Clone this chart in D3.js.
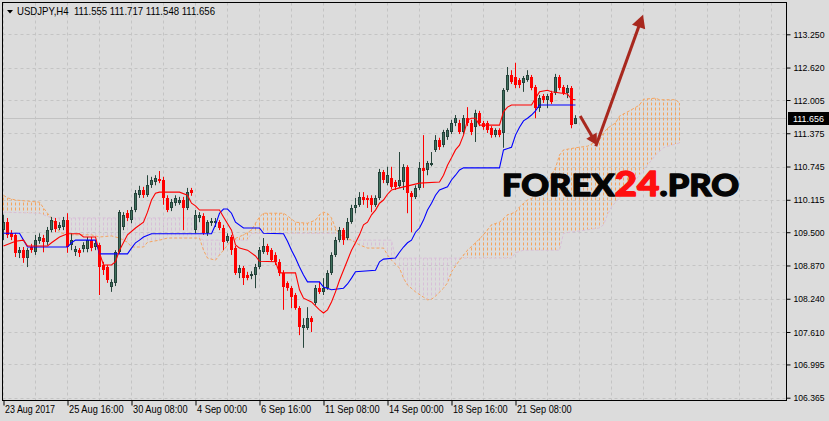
<!DOCTYPE html>
<html><head><meta charset="utf-8">
<script src="https://cdn.jsdelivr.net/npm/d3@7"></script>
<style>
html,body{margin:0;padding:0;background:#dcdcdc;}
svg{display:block;}
</style></head><body>
<svg id="chart" width="829" height="421"></svg>
<script>
// ---------- data ----------
const symbolLabel = "USDJPY,H4";
const headerOHLC = [111.555, 111.717, 111.548, 111.656];
const currentPrice = 111.656;

const opens = [
109.54,109.69,109.48,109.45,109.11,109.16,109.01,109.22,109.12,109.33,
109.39,109.31,109.54,109.71,109.58,109.60,109.73,109.26,109.12,109.16,
109.18,109.18,109.35,109.22,109.26,108.88,108.84,108.46,108.54,109.12,
109.60,109.86,109.73,109.92,110.20,110.30,110.20,110.39,110.45,110.51,
110.49,110.15,109.96,110.05,110.05,110.11,109.96,110.30,109.54,109.77,
109.81,109.48,109.67,109.67,109.69,109.58,109.33,109.41,109.20,108.73,
108.82,108.69,108.67,108.69,108.84,109.12,109.24,109.16,109.07,108.94,
108.73,108.54,108.44,108.31,108.06,107.68,107.68,107.87,108.16,108.44,
108.37,108.44,108.73,109.07,109.35,109.54,109.39,109.69,109.96,110.02,
110.17,110.15,110.15,110.02,110.15,110.64,110.43,110.53,110.45,110.38,
110.45,110.74,110.24,110.17,110.34,110.72,110.68,110.77,111.06,111.25,
111.15,111.30,111.40,111.57,111.57,111.40,111.66,111.57,111.49,111.76,
111.57,111.57,111.47,111.34,111.44,111.38,112.19,112.48,112.44,112.38,
112.33,112.38,112.44,112.25,111.85,112.08,112.01,112.14,112.14,112.44,
112.25,112.14,112.23,111.555];
const highs = [
109.83,109.77,109.54,109.48,109.22,109.22,109.20,109.28,109.45,109.48,
109.45,109.60,109.79,109.77,109.69,109.79,109.86,109.48,109.24,109.20,
109.31,109.41,109.41,109.35,109.30,108.94,108.88,108.61,109.16,109.92,
109.88,109.92,109.98,110.30,110.38,110.36,110.58,110.55,110.58,110.66,
110.55,110.20,110.13,110.20,110.17,110.17,110.34,110.34,109.92,109.88,
109.86,109.73,109.77,109.77,109.73,109.64,109.48,109.45,109.24,108.88,
108.86,108.75,108.76,108.90,109.22,109.39,109.28,109.20,109.12,108.99,
108.78,108.57,108.48,108.35,108.10,107.87,108.08,107.91,108.50,108.56,
108.63,108.78,109.12,109.41,109.60,109.58,109.77,110.02,110.15,110.26,
110.26,110.20,110.20,110.20,110.70,110.68,110.74,110.74,110.49,111.02,
110.79,110.77,110.28,110.39,110.83,111.34,110.85,111.02,111.34,111.29,
111.44,111.47,111.63,111.72,111.63,111.72,111.87,111.63,111.82,111.80,
111.61,111.61,111.51,111.47,111.47,112.23,112.63,112.57,112.71,112.42,
112.46,112.57,112.48,112.29,112.10,112.12,112.12,112.18,112.50,112.48,
112.29,112.29,112.27,111.717];
const lows = [
109.35,109.39,109.35,109.03,109.01,108.92,108.84,109.11,109.07,109.28,
109.12,109.26,109.50,109.50,109.54,109.54,109.11,109.16,109.05,109.03,
109.12,109.12,109.14,109.16,108.31,108.69,108.54,108.37,108.48,109.09,
109.54,109.71,109.67,109.88,110.15,110.15,110.17,110.34,110.39,110.43,
110.02,109.88,109.90,110.00,110.02,109.54,109.92,110.19,109.48,109.69,
109.45,109.43,109.62,109.60,109.54,109.16,109.30,109.07,108.69,108.63,
108.50,108.59,108.61,108.44,108.80,109.09,109.07,108.94,108.88,108.67,
108.03,108.39,108.06,108.03,107.55,107.31,107.65,107.61,108.12,108.33,
108.31,108.41,108.69,109.03,109.31,109.26,109.35,109.66,109.86,109.98,
110.02,109.96,109.88,109.98,110.11,110.43,110.39,110.32,110.30,110.34,
110.30,109.86,109.50,110.13,110.30,110.34,110.58,110.75,111.02,111.06,
111.11,111.25,111.36,111.51,111.36,111.36,111.51,111.34,111.21,111.51,
111.44,111.38,111.29,111.30,111.30,111.10,112.16,112.31,112.23,112.23,
112.16,112.35,112.19,111.66,111.78,111.95,111.85,111.93,112.10,112.19,
112.10,112.04,111.47,111.548];
const closes = [
109.69,109.45,109.41,109.11,109.16,109.01,109.16,109.16,109.35,109.41,
109.31,109.54,109.73,109.56,109.64,109.73,109.22,109.35,109.18,109.11,
109.26,109.35,109.20,109.30,108.84,108.78,108.59,108.56,109.12,109.88,
109.83,109.77,109.92,110.24,110.30,110.20,110.39,110.49,110.53,110.47,
110.15,109.92,110.07,110.15,110.11,109.96,110.26,110.24,109.83,109.83,
109.48,109.69,109.71,109.71,109.58,109.31,109.43,109.16,108.73,108.82,
108.63,108.63,108.71,108.84,109.16,109.24,109.12,108.97,108.94,108.73,
108.46,108.44,108.27,108.06,107.70,107.74,107.87,107.80,108.44,108.37,
108.44,108.73,109.07,109.35,109.54,109.35,109.69,109.96,110.02,110.17,
110.11,110.11,110.02,110.15,110.64,110.49,110.58,110.36,110.36,110.49,
110.74,110.24,110.17,110.34,110.72,110.66,110.81,110.81,111.25,111.11,
111.40,111.44,111.57,111.66,111.40,111.66,111.57,111.40,111.76,111.57,
111.49,111.44,111.34,111.44,111.34,112.19,112.48,112.35,112.29,112.29,
112.42,112.48,112.23,111.85,112.04,112.01,112.08,111.97,112.44,112.23,
112.14,112.23,111.53,111.656];

// Ichimoku lines read as [bar, price]
const tenkan = [[0,109.24],[3,109.33],[5,109.35],[6,109.24],[11,109.24],[12,109.30],[14,109.41],[16,109.47],[19,109.47],[20,109.41],[23,109.41],[24,109.11],[25,108.88],[27,108.88],[28,108.94],[29,109.16],[31,109.45],[33,109.58],[35,109.69],[36,109.88],[37,110.11],[38,110.24],[39,110.26],[44,110.26],[46,110.20],[47,110.05],[48,110.00],[49,109.92],[54,109.92],[55,109.79],[57,109.54],[58,109.26],[59,109.20],[61,109.16],[63,109.05],[64,108.95],[68,108.94],[69,108.73],[73,108.73],[74,108.41],[75,108.25],[77,108.18],[79,108.03],[80,107.97],[81,108.03],[82,108.18],[83,108.37],[84,108.59],[85,108.78],[86,108.97],[87,109.16],[88,109.30],[89,109.45],[90,109.64],[91,109.69],[92,109.83],[93,109.92],[94,110.05],[95,110.11],[96,110.22],[97,110.30],[99,110.34],[104,110.43],[109,110.45],[110,110.58],[111,110.77],[112,110.91],[113,111.06],[114,111.15],[115,111.34],[116,111.63],[117,111.66],[118,111.66],[119,111.53],[124,111.53],[125,111.78],[126,111.87],[127,111.91],[132,111.91],[133,112.04],[134,112.16],[136,112.19],[137,112.16],[141,112.12],[142,112.02],[143,112.01]];
const kijun = [[0,109.48],[4,109.48],[5,109.35],[6,109.22],[16,109.22],[17,109.30],[18,109.35],[23,109.35],[24,109.09],[31,109.09],[32,109.20],[33,109.30],[34,109.35],[35,109.41],[37,109.47],[52,109.47],[53,109.64],[54,109.86],[55,109.94],[56,109.94],[57,109.86],[58,109.69],[60,109.58],[64,109.58],[65,109.48],[70,109.47],[71,109.33],[72,109.16],[73,109.01],[74,108.84],[75,108.69],[76,108.56],[79,108.56],[80,108.46],[82,108.41],[85,108.44],[86,108.52],[87,108.63],[88,108.75],[93,108.78],[94,108.94],[95,108.99],[98,109.01],[99,109.12],[100,109.22],[101,109.30],[102,109.35],[103,109.50],[104,109.58],[105,109.73],[106,109.92],[107,110.05],[108,110.20],[109,110.30],[111,110.36],[112,110.49],[113,110.58],[114,110.68],[115,110.72],[124,110.72],[125,111.06],[127,111.11],[128,111.34],[129,111.49],[130,111.61],[131,111.66],[132,111.72],[133,111.80],[134,111.91],[143,111.91]];
const spanA = [[0,110.20],[1,110.15],[3,110.11],[9,110.07],[10,109.96],[11,109.86],[12,109.77],[13,109.64],[14,109.50],[16,109.45],[22,109.45],[24,109.41],[27,109.43],[29,109.39],[31,109.31],[32,109.22],[35,109.22],[36,109.31],[39,109.35],[41,109.39],[49,109.39],[50,109.16],[51,109.01],[53,108.97],[54,109.07],[55,109.16],[57,109.35],[60,109.45],[62,109.54],[63,109.67],[64,109.79],[65,109.86],[70,109.86],[71,109.81],[73,109.69],[76,109.67],[78,109.73],[79,109.83],[80,109.88],[81,109.86],[82,109.77],[83,109.58],[84,109.47],[85,109.41],[87,109.35],[89,109.26],[91,109.20],[95,109.20],[96,109.07],[97,108.97],[99,108.82],[100,108.63],[101,108.50],[103,108.37],[105,108.27],[106,108.22],[107,108.23],[108,108.29],[110,108.44],[111,108.54],[112,108.75],[113,108.86],[114,108.97],[116,109.16],[118,109.30],[120,109.45],[122,109.64],[124,109.69],[126,109.83],[128,109.88],[129,109.98],[131,110.11],[133,110.17],[135,110.26],[136,110.39],[137,110.58],[138,110.72],[139,110.96],[140,111.06],[143,111.10],[146,111.13],[149,111.25],[150,111.38],[151,111.47],[153,111.57],[154,111.70],[157,111.82],[159,111.91],[160,112.02],[163,112.04],[164,112.01],[168,112.01],[169,111.95]];
const spanB = [[0,109.88],[9,109.86],[10,109.83],[12,109.77],[48,109.77],[49,109.39],[50,109.35],[61,109.35],[62,109.48],[83,109.48],[84,109.47],[85,109.35],[97,109.35],[98,109.01],[127,109.01],[128,109.11],[130,109.16],[139,109.16],[140,109.48],[149,109.58],[150,109.64],[151,109.83],[152,109.98],[154,110.15],[156,110.30],[159,110.58],[161,110.77],[163,110.96],[165,111.10],[167,111.15],[169,111.19]];

const yTicks = [113.250,112.620,112.005,111.375,110.745,110.115,109.500,108.870,108.240,107.610,106.995,106.365];
const xTickBars = [0,16,32,48,64,80,96,112,128];
const xTickLabels = ["23 Aug 2017","25 Aug 16:00","30 Aug 08:00","4 Sep 00:00","6 Sep 16:00","11 Sep 08:00","14 Sep 00:00","18 Sep 16:00","21 Sep 08:00"];

// annotation arrows in [bar, price]
const arrowDown = [[144.3,111.70],[148.5,111.15]];
const arrowUp = [[148.2,111.13],[160,113.62]];

// ---------- drawing ----------
const svg = d3.select("#chart");
const L = 2.5, T = 2.5, R = 786.5, B = 400.5;
const x = d3.scaleLinear().domain([0,196]).range([3,787]);
const y = d3.scaleLinear().domain([106.365,113.25]).range([397.7,34.3]);
const nBars = opens.length;
const cloudBars = d3.range(0,170);
const axisFont = "Tahoma, 'Liberation Sans', sans-serif";

svg.append("rect").attr("width",829).attr("height",421).attr("fill","#dcdcdc");

const defs = svg.append("defs");
defs.append("clipPath").attr("id","plotClip").append("rect")
  .attr("x",L).attr("y",T).attr("width",R-L).attr("height",B-T);

const xEnd = x(169)+1;
function pts(arr){ const P = arr.map(d=>[x(d[0]),y(d[1])]); P.push([xEnd,P[P.length-1][1]]); return P; }
function abovePath(arr){ const P=pts(arr); return "M"+P[0][0]+","+T+"L"+P.map(p=>p.join(",")).join("L")+"L"+xEnd+","+T+"Z"; }
function belowPath(arr){ const P=pts(arr); return "M"+P[0][0]+","+B+"L"+P.map(p=>p.join(",")).join("L")+"L"+xEnd+","+B+"Z"; }
defs.append("clipPath").attr("id","aboveB").append("path").attr("d",abovePath(spanB));
defs.append("clipPath").attr("id","aboveA").append("path").attr("d",abovePath(spanA));
defs.append("clipPath").attr("id","belowA").append("path").attr("d",belowPath(spanA));
defs.append("clipPath").attr("id","belowB").append("path").attr("d",belowPath(spanB));

const plot = svg.append("g").attr("clip-path","url(#plotClip)");

// grid
const gridColor = "#c4c4c4";
plot.append("g").selectAll("line").data(yTicks).join("line")
  .attr("x1",L).attr("x2",R).attr("y1",d=>Math.round(y(d))+0.5).attr("y2",d=>Math.round(y(d))+0.5)
  .attr("stroke",gridColor).attr("stroke-dasharray","3,3");
plot.append("g").selectAll("line").data(d3.range(0,196,8)).join("line")
  .attr("x1",d=>x(d)+0.5).attr("x2",d=>x(d)+0.5).attr("y1",T).attr("y2",B)
  .attr("stroke",gridColor).attr("stroke-dasharray","3,3");

// current price line
plot.append("line").attr("x1",L).attr("x2",R)
  .attr("y1",Math.round(y(currentPrice))+0.5).attr("y2",Math.round(y(currentPrice))+0.5)
  .attr("stroke","#c2c2c2");

// cloud hatching: per-bar vertical dotted strokes clipped to the region between the spans
function hatchLayer(outerClip, innerClip, color){
  plot.append("g").attr("clip-path",`url(#${outerClip})`)
    .append("g").attr("clip-path",`url(#${innerClip})`)
    .selectAll("line").data(cloudBars).join("line")
    .attr("x1",d=>x(d)+0.5).attr("x2",d=>x(d)+0.5).attr("y1",T).attr("y2",B)
    .attr("stroke",color).attr("stroke-width",1).attr("stroke-dasharray","3,2");
}
hatchLayer("aboveB","belowA","#F4A460");
hatchLayer("aboveA","belowB","#D8BFD8");
const line = d3.line().x(d=>x(d[0])+0.5).y(d=>y(d[1]));
plot.append("path").attr("d",line(spanB)).attr("fill","none").attr("stroke","#D8BFD8").attr("stroke-dasharray","3,2");
plot.append("path").attr("d",line(spanA)).attr("fill","none").attr("stroke","#F4A460").attr("stroke-dasharray","3,2");

// candles
const cg = plot.append("g");
d3.range(nBars).forEach(i=>{
  const o=opens[i], c=closes[i], bull = c>=o;
  const cx = Math.round(x(i))+0.5;
  cg.append("line").attr("x1",cx).attr("x2",cx).attr("y1",y(highs[i])).attr("y2",y(lows[i]))
    .attr("stroke", bull ? "#27463c" : "#ff0000");
  const top = Math.round(y(Math.max(o,c))), bot = Math.round(y(Math.min(o,c)));
  const h = Math.max(1, bot-top);
  if (bull) {
    cg.append("rect").attr("x",cx-1).attr("y",top+0.5).attr("width",2).attr("height",Math.max(0.5,h-1))
      .attr("fill","#3f705c").attr("stroke","#24423a");
  } else {
    cg.append("rect").attr("x",cx-1.5).attr("y",top).attr("width",3).attr("height",h).attr("fill","#ff0000");
  }
});

// tenkan / kijun
plot.append("path").attr("d",line(kijun)).attr("fill","none").attr("stroke","#0000ff").attr("stroke-width",1.1);
plot.append("path").attr("d",line(tenkan)).attr("fill","none").attr("stroke","#ff0000").attr("stroke-width",1.1);

// watermark
const wm = svg.append("text").attr("x",502).attr("y",196)
  .attr("font-family","Lato, 'DejaVu Sans', sans-serif").attr("font-weight",900).attr("font-size",31)
  .attr("textLength",237).attr("lengthAdjust","spacingAndGlyphs")
  .attr("fill","#050505").attr("stroke","#050505").attr("stroke-width",1.3).attr("stroke-linejoin","round");
wm.append("tspan").text("FOREX");
wm.append("tspan").attr("fill","#ff1010").attr("stroke","#ff1010").attr("font-size",35).text("24");
wm.append("tspan").text(".PRO");

// arrows
function arrow(a, hl, hw){
  const p0=[x(a[0][0]),y(a[0][1])], p1=[x(a[1][0]),y(a[1][1])];
  const dx=p1[0]-p0[0], dy=p1[1]-p0[1], len=Math.hypot(dx,dy), ux=dx/len, uy=dy/len;
  const bx=p1[0]-ux*hl, by=p1[1]-uy*hl, nx=-uy, ny=ux;
  svg.append("line").attr("x1",p0[0]).attr("y1",p0[1]).attr("x2",bx+ux*2).attr("y2",by+uy*2)
    .attr("stroke","#a8281e").attr("stroke-width",3);
  svg.append("path").attr("d",`M${p1[0]},${p1[1]}L${bx+nx*hw},${by+ny*hw}L${bx-nx*hw},${by-ny*hw}Z`).attr("fill","#a8281e");
}
arrow(arrowDown, 11, 6);
arrow(arrowUp, 13, 7);

// frame
svg.append("rect").attr("x",L).attr("y",T).attr("width",R-L).attr("height",B-T)
  .attr("fill","none").attr("stroke","#000").attr("stroke-width",1);

// y axis
const yAxis = svg.append("g").attr("transform",`translate(${R},0)`)
  .call(d3.axisRight(y).tickValues(yTicks).tickSize(4).tickPadding(3).tickFormat(d3.format(".3f")));
yAxis.select(".domain").remove();
yAxis.selectAll(".tick line").attr("stroke","#000");
yAxis.selectAll(".tick text").attr("font-family",axisFont).attr("font-size",9.5)
  .attr("fill","#000").attr("textLength",31).attr("lengthAdjust","spacingAndGlyphs");

// price label
const py = y(currentPrice);
svg.append("rect").attr("x",788).attr("y",Math.round(py)-6).attr("width",41).attr("height",13).attr("fill","#000");
svg.append("text").attr("x",793).attr("y",py).attr("dy","0.35em").attr("fill","#fff")
  .attr("font-family",axisFont).attr("font-size",9.5)
  .attr("textLength",31).attr("lengthAdjust","spacingAndGlyphs").text(d3.format(".3f")(currentPrice));

// x axis
const xAxis = svg.append("g").attr("transform",`translate(0.5,${B})`)
  .call(d3.axisBottom(x).tickValues(xTickBars).tickSize(5).tickPadding(0).tickFormat((d,i)=>xTickLabels[i]));
xAxis.select(".domain").remove();
xAxis.selectAll(".tick line").attr("stroke","#000");
xAxis.selectAll(".tick text").attr("font-family",axisFont).attr("font-size",10.5)
  .attr("fill","#000").attr("text-anchor","start").attr("x",1).attr("y",5)
  .attr("textLength",(d,i)=>xTickLabels[i].length*4.55).attr("lengthAdjust","spacingAndGlyphs");

// header
svg.append("path").attr("d","M7,10L13,10L10,13.5Z").attr("fill","#000");
svg.append("text").attr("x",17).attr("y",15)
  .attr("font-family",axisFont).attr("font-size",11).attr("fill","#000")
  .attr("textLength",198).attr("lengthAdjust","spacingAndGlyphs").attr("xml:space","preserve")
  .text(symbolLabel + "  " + headerOHLC.map(d3.format(".3f")).join(" "));
</script>
</body></html>
